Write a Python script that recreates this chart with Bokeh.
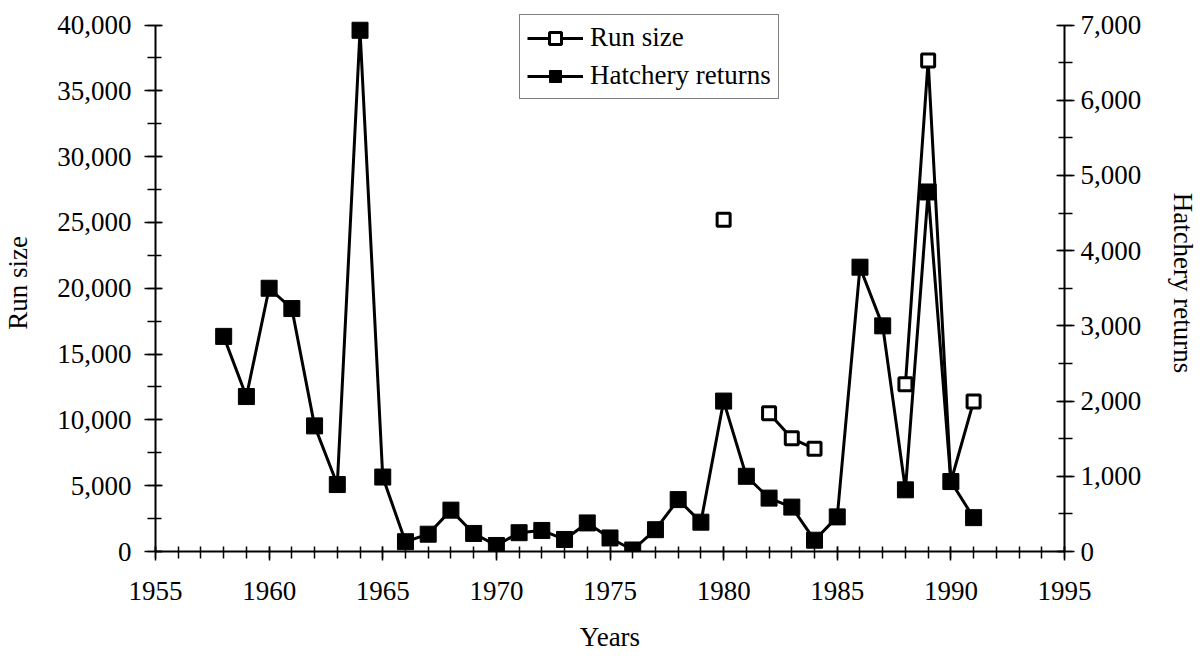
from bokeh.plotting import figure
from bokeh.models import (Range1d, LinearAxis, SingleIntervalTicker, NumeralTickFormatter,
                          Legend, LegendItem, ColumnDataSource)
from bokeh.embed import file_html
from bokeh.resources import INLINE

nan = float("nan")

hatch_years = list(range(1958, 1992))
hatchery_returns = [2860, 2060, 3500, 3230, 1670, 890, 6930, 990, 130, 230,
                    550, 240, 80, 250, 280, 160, 380, 180, 20, 290,
                    690, 390, 2000, 1000, 710, 590, 150, 460, 3780, 3000,
                    820, 4780, 930, 450]

run_years = [1980, 1981, 1982, 1983, 1984, 1985, 1986, 1987, 1988, 1989, 1990, 1991]
run_size = [25200, nan, 10500, 8600, 7800, nan, nan, nan, 12700, 37300, 5300, 11400]

left_ticks_max = 40000
right_ticks_max = 7000

FONT = "Liberation Serif"

# frame: 14 .. 551 px; axis tops (40,000 / 7,000) sit at ~24.5 px
FRAME_H = 537.0
AXIS_H = 526.5
p = figure(width=1202, height=658, output_backend="svg", toolbar_location=None,
           x_range=Range1d(1955, 1995),
           y_range=Range1d(0, left_ticks_max * FRAME_H / AXIS_H),
           min_border_left=154, min_border_right=138, min_border_top=14, min_border_bottom=107,
           x_axis_location=None, y_axis_location=None)
p.extra_y_ranges = {"hatch": Range1d(0, right_ticks_max * FRAME_H / AXIS_H)}
p.outline_line_color = None
p.xgrid.visible = False
p.ygrid.visible = False
p.background_fill_color = "white"
p.border_fill_color = "white"


def style(ax, out_major, in_major, out_minor, in_minor):
    ax.axis_line_color = "black"
    ax.axis_line_width = 2
    ax.major_tick_line_color = "black"
    ax.minor_tick_line_color = "black"
    ax.major_tick_line_width = 1.5
    ax.minor_tick_line_width = 1.5
    ax.major_tick_out = out_major
    ax.major_tick_in = in_major
    ax.minor_tick_out = out_minor
    ax.minor_tick_in = in_minor
    ax.major_label_text_font = FONT
    ax.major_label_text_font_size = "27px"
    ax.major_label_text_color = "black"
    ax.axis_label_text_font = FONT
    ax.axis_label_text_font_size = "27px"
    ax.axis_label_text_font_style = "normal"
    ax.axis_label_text_color = "black"


xaxis = LinearAxis(ticker=SingleIntervalTicker(interval=5, num_minor_ticks=5),
                   axis_label="Years")
style(xaxis, 9, 5, 7, 5)
xaxis.major_label_standoff = 21
xaxis.axis_label_standoff = 19
p.add_layout(xaxis, "below")

yaxis = LinearAxis(ticker=SingleIntervalTicker(interval=5000, num_minor_ticks=2),
                   formatter=NumeralTickFormatter(format="0,0"), axis_label="Run size",
                   bounds=(0, left_ticks_max))
style(yaxis, 11, 7, 8, 6)
yaxis.major_label_standoff = 13
yaxis.axis_label_standoff = 21
p.add_layout(yaxis, "left")

raxis = LinearAxis(y_range_name="hatch",
                   ticker=SingleIntervalTicker(interval=1000, num_minor_ticks=2),
                   formatter=NumeralTickFormatter(format="0,0"), axis_label="Hatchery returns",
                   bounds=(0, right_ticks_max))
style(raxis, 10, 8, 8, 6)
raxis.major_label_standoff = 6
raxis.axis_label_standoff = 24
p.add_layout(raxis, "right")

run_src = ColumnDataSource(dict(x=run_years, y=run_size))
hat_src = ColumnDataSource(dict(x=hatch_years, y=hatchery_returns))

r_line = p.line("x", "y", source=run_src, line_color="black", line_width=3)
r_pts = p.scatter("x", "y", source=run_src, marker="square", size=13,
                  fill_color="white", line_color="black", line_width=3)
h_line = p.line("x", "y", source=hat_src, y_range_name="hatch", line_color="black", line_width=3)
h_pts = p.scatter("x", "y", source=hat_src, y_range_name="hatch", marker="square", size=16,
                  fill_color="black", line_color="black")

legend = Legend(items=[LegendItem(label="Run size", renderers=[r_line, r_pts]),
                       LegendItem(label="Hatchery returns", renderers=[h_line, h_pts])],
                location=(364, 452))
legend.label_text_font = FONT
legend.label_text_font_size = "27px"
legend.label_text_color = "black"
legend.glyph_width = 56
legend.glyph_height = 30
legend.label_height = 30
legend.label_standoff = 7
legend.spacing = 7
legend.padding = 7
legend.margin = 0
legend.border_line_color = "black"
legend.border_line_width = 1.5
legend.background_fill_color = "white"
legend.background_fill_alpha = 1.0
p.add_layout(legend, "center")

open("out.html", "w").write(file_html(p, INLINE))
